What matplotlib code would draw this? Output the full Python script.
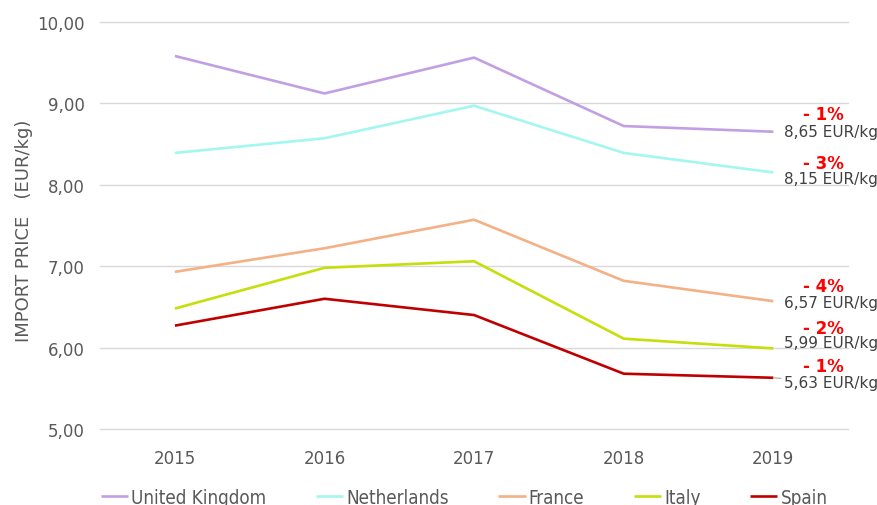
import matplotlib.pyplot as plt

# Import price per kg by origin country
years = ["2015", "2016", "2017", "2018", "2019"]
countries = ["United Kingdom", "Netherlands", "France", "Italy", "Spain"]
uk = [9.58, 9.12, 9.56, 8.72, 8.65]
nl = [8.39, 8.57, 8.97, 8.39, 8.15]
fr = [6.93, 7.22, 7.57, 6.82, 6.57]
it = [6.48, 6.98, 7.06, 6.11, 5.99]
es = [6.27, 6.60, 6.40, 5.68, 5.63]
changes = ["- 1%", "- 3%", "- 4%", "- 2%", "- 1%"]
colors = ["#C29FE2", "#A4F6F0", "#F4B086", "#C6DE0A", "#C00000"]

series = [uk, nl, fr, it, es]
gray = "#595959"

fig = plt.figure(figsize=(8.78, 5.06), dpi=100)
ax = fig.add_axes([0.114, 0.150, 0.852, 0.805])

x = list(range(len(years)))
for name, vals, col in zip(countries, series, colors):
    ax.plot(x, vals, color=col, linewidth=1.9, label=name, solid_capstyle="butt")

# end-of-line labels: value and percentage change (offsets in points)
value_dy = [0, -4.3, -0.7, 4.3, -3.6]
change_dy = [13.0, 7.0, 11.0, 14.8, 8.8]
for i, (vals, chg) in enumerate(zip(series, changes)):
    last = vals[-1]
    kw = {}
    if i == 4:
        kw["arrowprops"] = dict(arrowstyle="-", color="#A6A6A6", lw=0.8,
                                shrinkA=0, shrinkB=0)
    ax.annotate(f"{last:.2f} EUR/kg".replace(".", ","), xy=(x[-1], last),
                xytext=(7.5, value_dy[i]), textcoords="offset points",
                ha="left", va="center", fontsize=11, color="#404040",
                annotation_clip=False, **kw)
    ax.annotate(chg, xy=(x[-1], last), xytext=(36, change_dy[i]),
                textcoords="offset points", ha="center", va="center",
                fontsize=12, fontweight="bold", color="#FF0000",
                annotation_clip=False)

ax.set_xlim(-0.5, 4.5)
ax.set_ylim(5, 10)
ax.set_xticks(x)
ax.set_xticklabels(years)
ax.set_yticks([5, 6, 7, 8, 9, 10])
ax.set_yticklabels(["5,00", "6,00", "7,00", "8,00", "9,00", "10,00"])
ax.tick_params(axis="both", length=0, labelsize=12, colors=gray)
ax.tick_params(axis="x", pad=14)
ax.tick_params(axis="y", pad=11)
ax.grid(axis="y", color="#D9D9D9", linewidth=1)
for gl in ax.get_ygridlines():
    gl.set_clip_on(False)
ax.set_axisbelow(True)
for s in ax.spines.values():
    s.set_visible(False)

ax.set_ylabel("IMPORT PRICE   (EUR/kg)", fontsize=13, color=gray)
ax.yaxis.set_label_coords(-0.09, 0.49)

leg = ax.legend(loc="upper left", bbox_to_anchor=(-0.009, -0.126), ncol=5,
                frameon=False, handlelength=1.45, handletextpad=0.16,
                columnspacing=2.65, borderaxespad=0,
                prop={"family": "DejaVu Sans", "stretch": "condensed", "size": 13.5})
for t in leg.get_texts():
    t.set_color(gray)

fig.savefig("out.png", dpi=100)
